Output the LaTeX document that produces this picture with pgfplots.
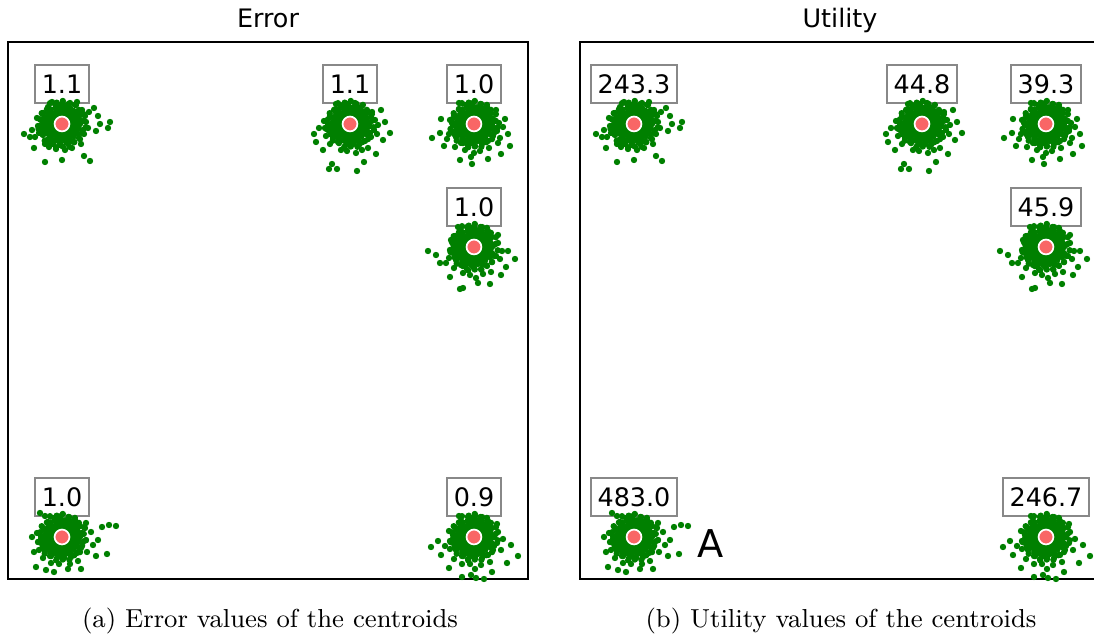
\documentclass[border=0pt]{standalone}
\usepackage{fontspec}
\usepackage{pgfplots}
\usepackage{pgfplotstable}
\pgfplotsset{compat=1.18}
\newfontfamily\dejavu{DejaVu Sans}
\definecolor{ptgreen}{HTML}{008000}
\definecolor{ctred}{HTML}{F96666}
\definecolor{boxgray}{HTML}{888888}

% dense core, offsets from the centroid (pixel units, y up)
\pgfplotstableread[row sep=\\]{dx dy\\
-6 -16.5\\ -1 -15\\ 4 -16.8\\
-12 -12.3\\ -8 -11.5\\ -3 -12.6\\ 2 -11.8\\ 7 -12.4\\ 11.5 -11.2\\
-15 -8.4\\ -10.3 -7.6\\ -5 -8.2\\ 0.4 -7.8\\ 5.2 -8.5\\ 9.6 -7.7\\ 14.2 -8.3\\
-17 -4.2\\ -12.4 -3.6\\ -7.6 -4.4\\ -3.2 -3.8\\ 1.3 -4.3\\ 6.1 -3.7\\ 10.8 -4.5\\ 15.6 -3.9\\
-16.3 0.3\\ -11.2 -0.4\\ -6.4 0.5\\ -1.8 -0.2\\ 3.3 0.4\\ 7.7 -0.5\\ 12.4 0.2\\ 17.2 -0.3\\
-15.1 4.2\\ -9.8 3.7\\ -5.3 4.4\\ 0.2 3.8\\ 4.6 4.3\\ 9.3 3.6\\ 14.1 4.4\\
-13.7 8.3\\ -9.2 7.6\\ -4.1 8.4\\ 1.2 7.8\\ 5.8 8.5\\ 10.7 7.7\\ 15.2 8.2\\
-11.4 12.2\\ -6.2 11.7\\ -1.3 12.5\\ 3.9 11.6\\ 8.8 12.3\\ 12.4 11.8\\
-5.4 15.8\\ 0.3 16.4\\ 5.1 15.6\\
-3.5 -14\\ 1.8 -13.8\\ 6.2 -14.3\\
-10 -10.1\\ -5.6 -9.8\\ -0.8 -10.3\\ 4.4 -9.7\\ 9 -10.2\\
-13.2 -6\\ -7.8 -6.3\\ -2.6 -5.8\\ 2.9 -6.2\\ 7.8 -5.9\\ 12.4 -6.3\\
-14.4 -1.9\\ -9.1 -2.2\\ -4.2 -1.7\\ 5.4 -2.1\\ 10.1 -1.8\\ 14.6 -2.3\\
-13.4 2.1\\ -8.2 1.8\\ 5.9 2.2\\ 10.6 1.7\\ 15 2.3\\
-12.3 6.1\\ -7.3 5.8\\ -2.4 6.3\\ 2.7 5.9\\ 7.4 6.2\\ 12.2 5.8\\
-8.7 10.1\\ -3.6 9.8\\ 1.4 10.3\\ 6.6 9.7\\ 10.2 10.2\\
-2.8 14.1\\ 2.4 13.8\\
}\corepts

% middle band round the core
\pgfplotstableread[row sep=\\]{dx dy\\
18 0\\ 21.8 3.1\\ 16.3 4.7\\ 21.9 9.8\\ 16.1 10.1\\ 16.9 14.1\\ 11.7 13.0\\ 12.9 19.1\\
7.9 16.2\\ 6.5 20.0\\ 3.0 16.7\\ 0.8 23.0\\ -2.0 18.9\\ -5.3 21.3\\ -6.4 15.8\\ -12 20.8\\
-11.4 14.6\\ -15.1 14.6\\ -13.8 10.0\\ -20.3 10.8\\ -17.9 6.5\\ -22.0 4.7\\ -17.5 1.2\\
-20.9 -1.5\\ -23.5 -5.0\\ -16.9 -6.2\\ -19.4 -10.3\\ -13.8 -10.0\\ -17.3 -16.7\\ -11.7 -15.0\\
-11 -19.1\\ -6.6 -16.2\\ -5.8 -23.3\\ -2.0 -18.9\\ 0.8 -22.5\\ 3.0 -16.7\\ 7.4 -22.8\\
8.5 -17.5\\ 12.3 -18.2\\ 11.4 -12.6\\ 18.0 -15.1\\ 16.1 -10.1\\ 20.1 -8.9\\ 16.8 -4.8\\
23.8 -3.3\\
}\midpts

% outer points of each cluster
\pgfplotstableread[row sep=\\]{dx dy\\
19 3\\ 21 -6\\ 18.5 9\\ 20 14\\ 14 19\\ 8 21\\ 1 20\\ -7 20\\ -14 17\\ -19 11\\ -21 4\\ -20 -5\\
-19 -11\\ -15 -16\\ -9 -20\\ -2 -21\\ 5 -19\\ 12 -18\\ 17 -14\\ 22 -10\\ 24 2\\ 23 8\\ -24 -2\\
-23 -9\\ -25 6\\ 10 -24\\ -6 -25\\ 3 -26\\ -13 -23\\ 19 -20\\ 26 -4\\ -27 -13\\ -17 -20\\ 15 22\\
-10 22\\ 27 12\\
-38 -10\\ -32 -13\\ -30 -6\\ 48 2\\ 46 -4\\ 38 0\\ 34 -7\\ -17 -38\\ 0 -36\\ 22 -32\\ 28 -37\\
-28 -24\\ 32 16\\ 36 8\\
}\ringA
\pgfplotstableread[row sep=\\]{dx dy\\
20 -2\\ 18 -9\\ 21 7\\ 17 13\\ 12 18\\ 5 21\\ -3 20\\ -10 19\\ -16 14\\ -20 8\\ -22 0\\ -21 -7\\
-17 -14\\ -12 -18\\ -5 -22\\ 3 -20\\ 9 -21\\ 15 -17\\ 21 -13\\ 24 -6\\ 25 4\\ -25 -4\\ -24 -12\\
-26 3\\ 12 -26\\ -3 -27\\ -9 -26\\ 18 -24\\ 27 -10\\ -20 -20\\ 22 12\\ -14 20\\ 6 -29\\ 28 -1\\
-36 -10\\ -31 -4\\ -34 -18\\ -27 -26\\ 40 -9\\ 35 2\\ 33 -16\\ -18 -40\\ -13 -45\\ 7 -47\\
-21 -45\\ 14 -38\\ 26 -30\\ 31 14\\
}\ringB
\pgfplotstableread[row sep=\\]{dx dy\\
19 5\\ 20 -4\\ 17 11\\ 13 17\\ 7 20\\ -1 21\\ -8 19\\ -15 15\\ -20 9\\ -22 1\\ -20 -8\\ -18 -13\\
-13 -19\\ -6 -21\\ 1 -22\\ 8 -20\\ 14 -17\\ 19 -12\\ 23 -7\\ 25 1\\ -25 -10\\ -24 4\\ -27 -15\\
6 -27\\ -9 -26\\ 15 -24\\ 26 -14\\ -19 -23\\ 22 14\\ -15 21\\ 0 -29\\ 29 -3\\ 24 -19\\ -3 -33\\
-42 -14\\ -34 -9\\ -30 -22\\ 34 -10\\ 36 -22\\ 31 5\\ -2 -40\\ 14 -35\\ -14 -36\\ 27 -30\\ -33 5\\
}\ringC
\pgfplotstableread[row sep=\\]{dx dy\\
20 2\\ 19 -7\\ 18 10\\ 14 16\\ 8 20\\ 0 20\\ -7 20\\ -13 16\\ -19 11\\ -21 3\\ -21 -6\\ -18 -13\\
-13 -18\\ -7 -22\\ 0 -21\\ 7 -22\\ 13 -19\\ 18 -15\\ 22 -9\\ 24 4\\ -24 -3\\ -25 -11\\ -23 7\\
9 -27\\ -4 -28\\ -11 -26\\ 17 -25\\ 26 -12\\ -20 -21\\ 24 12\\ -16 20\\ 2 -31\\ 28 -4\\ -28 -16\\
-46 -4\\ -38 -8\\ -34 -16\\ 41 -12\\ 34 -4\\ 32 -20\\ -14 -42\\ -11 -41\\ 4 -36\\ 16 -37\\
-24 -30\\ 27 -28\\
}\ringD
\pgfplotstableread[row sep=\\]{dx dy\\
20 4\\ 21 -5\\ 18 11\\ 13 17\\ 7 20\\ -1 21\\ -8 19\\ -14 15\\ -19 9\\ -21 1\\ -20 -7\\ -17 -14\\
-12 -19\\ -5 -21\\ 2 -21\\ 9 -20\\ 15 -16\\ 19 -11\\ 24 -3\\ 23 9\\ -24 -5\\ -25 4\\ -23 -13\\
8 -27\\ -3 -27\\ -11 -26\\ 16 -24\\ 25 -15\\ -19 -21\\ 24 14\\ -17 21\\ 29 5\\ 31 -8\\
54 11\\ 47 12\\ 40 10\\ 36 -3\\ 45 -17\\ 34 -19\\ -30 0\\ -28 -15\\ -26 -30\\ -16 -33\\
-8 -35\\ 6 -32\\ 19 -32\\ -22 24\\
}\ringE
\pgfplotstableread[row sep=\\]{dx dy\\
20 0\\ 19 -8\\ 18 9\\ 14 16\\ 8 20\\ 1 21\\ -6 20\\ -13 16\\ -19 10\\ -21 2\\ -21 -6\\ -18 -13\\
-12 -19\\ -6 -22\\ 1 -21\\ 8 -21\\ 14 -18\\ 19 -13\\ 23 -6\\ 24 5\\ -24 -4\\ -24 -12\\ -25 6\\
7 -28\\ -4 -27\\ -12 -27\\ 16 -25\\ 27 -13\\ -20 -22\\ 23 13\\ -15 21\\ 1 -32\\ 29 -2\\ -29 -9\\
-43 -10\\ -36 -4\\ -33 -18\\ 44 -19\\ 37 -8\\ 33 -26\\ -12 -40\\ 2 -41\\ 10 -42\\ -3 -38\\
18 -35\\ -25 -31\\
}\ringF

\newcommand\drawcluster[3]{%
  \addplot[only marks, mark=*, mark size=0.9pt, ptgreen]
    table[x expr=\thisrow{dx}+#2, y expr=\thisrow{dy}+#3] {\corepts};
  \addplot[only marks, mark=*, mark size=0.9pt, ptgreen]
    table[x expr=\thisrow{dx}+#2, y expr=\thisrow{dy}+#3] {\midpts};
  \addplot[only marks, mark=*, mark size=0.9pt, ptgreen]
    table[x expr=\thisrow{dx}+#2, y expr=\thisrow{dy}+#3] {#1};
}
\newcommand\drawall{%
  \drawcluster{\ringA}{54}{455}
  \drawcluster{\ringB}{342}{455}
  \drawcluster{\ringC}{466}{455}
  \drawcluster{\ringD}{466}{332}
  \drawcluster{\ringE}{54}{42}
  \drawcluster{\ringF}{466}{42}
  \addplot[only marks, mark=*, mark size=2.6pt,
    mark options={fill=ctred, draw=white, line width=0.6pt}]
    coordinates {(54,455)(342,455)(466,455)(466,332)(54,42)(466,42)};
}

\pgfplotsset{
  clusterax/.style={
    scale only axis, width=182pt, height=187.95pt, anchor=south west,
    xmin=0, xmax=520, ymin=0, ymax=537,
    xtick=\empty, ytick=\empty,
    axis line style={line width=0.6pt},
  },
}
\tikzset{
  lbl/.style={draw=boxgray, line width=0.6pt, fill=white, fill opacity=0.9,
    text opacity=1, font=\dejavu\fontsize{8.9}{10}\selectfont,
    inner xsep=2.3pt, minimum height=13pt, anchor=center},
}

\begin{document}
\begin{tikzpicture}
\useasboundingbox (0,0) rectangle (382.9pt,222.25pt);

\begin{axis}[clusterax, at={(2.8pt,19.6pt)}]
\drawall
\node[lbl] at (axis cs:54,495) {1.1};
\node[lbl] at (axis cs:342,495) {1.1};
\node[lbl] at (axis cs:466,495) {1.0};
\node[lbl] at (axis cs:466,372) {1.0};
\node[lbl] at (axis cs:54,82) {1.0};
\node[lbl] at (axis cs:466,82) {0.9};
\end{axis}

\begin{axis}[clusterax, at={(203pt,19.6pt)}]
\drawall
\node[lbl] at (axis cs:54,495) {243.3};
\node[lbl] at (axis cs:342,495) {44.8};
\node[lbl] at (axis cs:466,495) {39.3};
\node[lbl] at (axis cs:466,372) {45.9};
\node[lbl] at (axis cs:54,82) {483.0};
\node[lbl] at (axis cs:466,82) {246.7};
\node[anchor=base west, inner sep=0pt, font=\dejavu\fontsize{13.4}{15}\selectfont]
  at (axis cs:117,21) {A};
\end{axis}

\node[anchor=base, inner sep=0pt, font=\dejavu\fontsize{8.9}{10}\selectfont]
  at (93.8pt,212.45pt) {Error};
\node[anchor=base, inner sep=0pt, font=\dejavu\fontsize{8.9}{10}\selectfont]
  at (294pt,212.45pt) {Utility};
\node[anchor=base, inner sep=0pt, font=\fontsize{9.1}{11}\selectfont] at (94.5pt,2.45pt)
  {(a) Error values of the centroids};
\node[anchor=base, inner sep=0pt, font=\fontsize{9.1}{11}\selectfont] at (294.35pt,2.45pt)
  {(b) Utility values of the centroids};
\end{tikzpicture}
\end{document}
